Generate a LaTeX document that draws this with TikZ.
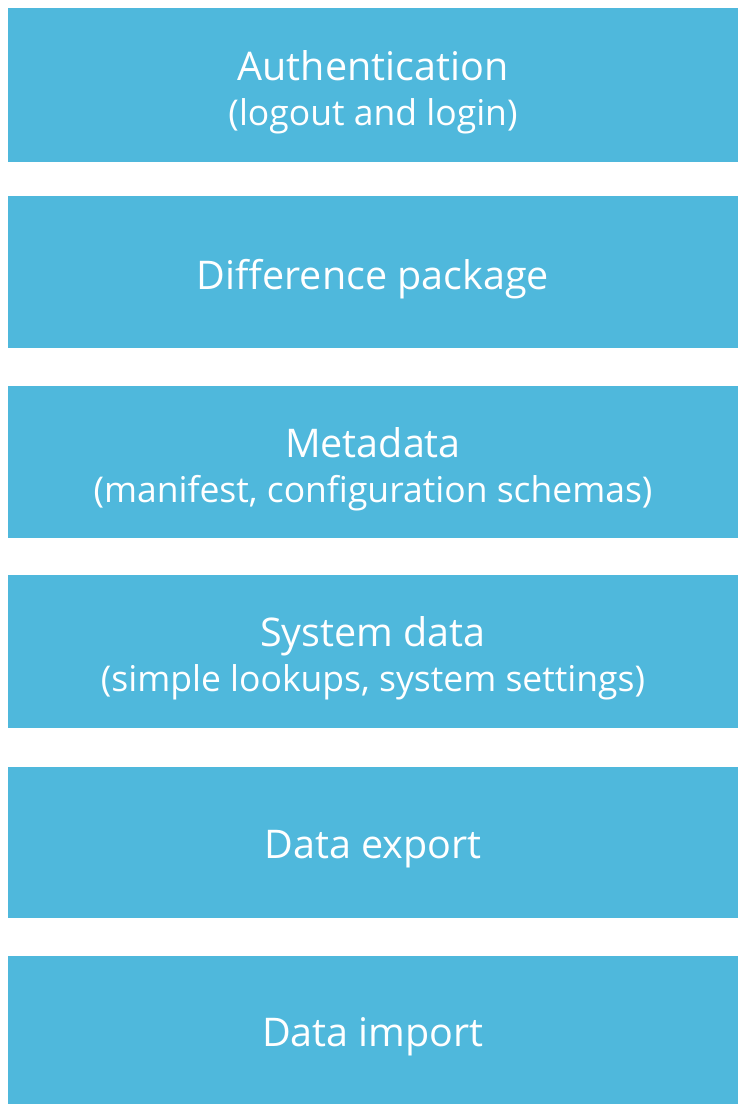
\documentclass[tikz,border=0pt]{standalone}
\usepackage{fontspec}
\setmainfont{Open Sans}
\definecolor{layerblue}{RGB}{79,184,220}
\newcommand{\maintext}[1]{{\fontsize{39.5}{45}\selectfont #1}}
\newcommand{\subtext}[1]{{\fontsize{35.5}{45}\selectfont #1}}

\begin{document}
\begin{tikzpicture}[x=1pt,y=-1pt]
 \tikzset{layer/.style = {rectangle,fill=layerblue,inner sep=0pt,minimum width=730pt}}
 \tikzset{caption/.style = {text=white,inner sep=0pt,align=center,yshift=-7pt,
   font=\fontsize{35.5}{45}\selectfont}}
 \useasboundingbox (0,0) rectangle (738,1104);
 \node[layer,minimum height=154pt] (auth) at (373,85) {};
 \node[layer,minimum height=152pt] (diff) at (373,272) {};
 \node[layer,minimum height=152pt] (meta) at (373,462) {};
 \node[layer,minimum height=153pt] (sysdata) at (373,651.5) {};
 \node[layer,minimum height=151pt] (export) at (373,842.5) {};
 \node[layer,minimum height=148pt] (import) at (373,1030) {};
 \node[caption] (authtext) at (auth) {\maintext{Authentication}\\\subtext{(logout and login)}};
 \node[caption] (difftext) at (diff) {\maintext{Difference package}};
 \node[caption] (metatext) at (meta) {\maintext{Metadata}\\\subtext{(manifest, configuration schemas)}};
 \node[caption] (systext) at (sysdata) {\maintext{System data}\\\subtext{(simple lookups, system settings)}};
 \node[caption] (exporttext) at (export) {\maintext{Data export}};
 \node[caption] (importtext) at (import) {\maintext{Data import}};
\end{tikzpicture}
\end{document}
